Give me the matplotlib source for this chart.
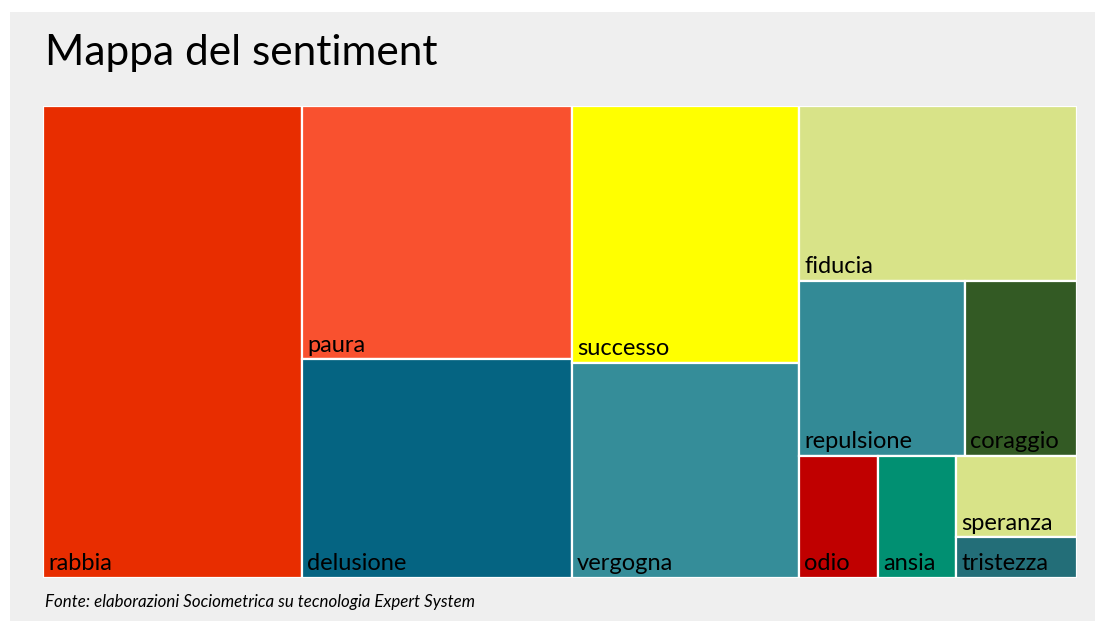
import matplotlib

matplotlib.use("Agg")
import matplotlib.pyplot as plt
from matplotlib.patches import Rectangle

plt.rcParams["font.family"] = ["Lato", "DejaVu Sans"]

# sentiment shares (estimated from the treemap areas), in display order
labels = ["rabbia", "paura", "delusione", "successo", "vergogna", "fiducia",
          "repulsione", "coraggio", "odio", "ansia", "speranza", "tristezza"]
values = [24.9, 13.9, 12.0, 11.9, 9.95, 9.9, 5.9, 4.0, 1.97, 1.94, 2.0, 1.0]
colors = ["#E82D00", "#F9512F", "#056482", "#FFFF00", "#358D99", "#D8E388",
          "#338A96", "#335A24", "#C00000", "#019072", "#D8E388", "#236E78"]

title = "Mappa del sentiment"
source = "Fonte: elaborazioni Sociometrica su tecnologia Expert System"

W, H = 1034.0, 472.0  # treemap box in data units (matches axes pixel aspect)


def _worst(row, side):
    s = sum(row)
    return max(side * side * max(row) / (s * s), s * s / (side * side * min(row)))


def squarify(vals, x, y, w, h):
    """Bruls et al. squarified layout, top-down coords; keeps input order."""
    total = sum(vals)
    areas = [v * w * h / total for v in vals]
    rects = []
    i = 0
    while i < len(areas):
        side = min(w, h)
        row = [areas[i]]
        j = i + 1
        while j < len(areas) and _worst(row + [areas[j]], side) <= _worst(row, side):
            row.append(areas[j])
            j += 1
        s = sum(row)
        if w >= h:  # column on the left
            cw = s / h
            cy = y
            for a in row:
                rects.append((x, cy, cw, a / cw))
                cy += a / cw
            x += cw
            w -= cw
        else:  # row along the top
            rh = s / w
            cx = x
            for a in row:
                rects.append((cx, y, a / rh, rh))
                cx += a / rh
            y += rh
            h -= rh
        i = j
    return rects


fig = plt.figure(figsize=(10.95, 6.21), dpi=100)
fig.patch.set_facecolor("white")
fig.patches.append(Rectangle((10 / 1095, 0), 1 - 10 / 1095, 1 - 12 / 621,
                             transform=fig.transFigure, facecolor="#EFEFEF",
                             edgecolor="none", zorder=-10))

ax = fig.add_axes([43 / 1095, 43 / 621, W / 1095, H / 621])
ax.set_xlim(0, W)
ax.set_ylim(H, 0)
ax.axis("off")

for lab, col, (rx, ry, rw, rh) in zip(labels, colors, squarify(values, 0, 0, W, H)):
    ax.add_patch(Rectangle((rx, ry), rw, rh, facecolor=col, edgecolor="white",
                           linewidth=1.6))
    ax.annotate(lab, xy=(rx, ry + rh), xytext=(3.8, 5.5), textcoords="offset points",
                ha="left", va="baseline", fontsize=17, color="black")

fig.text(45 / 1095, 1 - 65 / 621, title, fontsize=30.5,
         ha="left", va="baseline", color="black")
fig.text(45 / 1095, 1 - 607 / 621, source, fontsize=12.2, style="italic",
         ha="left", va="baseline", color="black")

fig.savefig("out.png", dpi=100, facecolor=fig.get_facecolor())
